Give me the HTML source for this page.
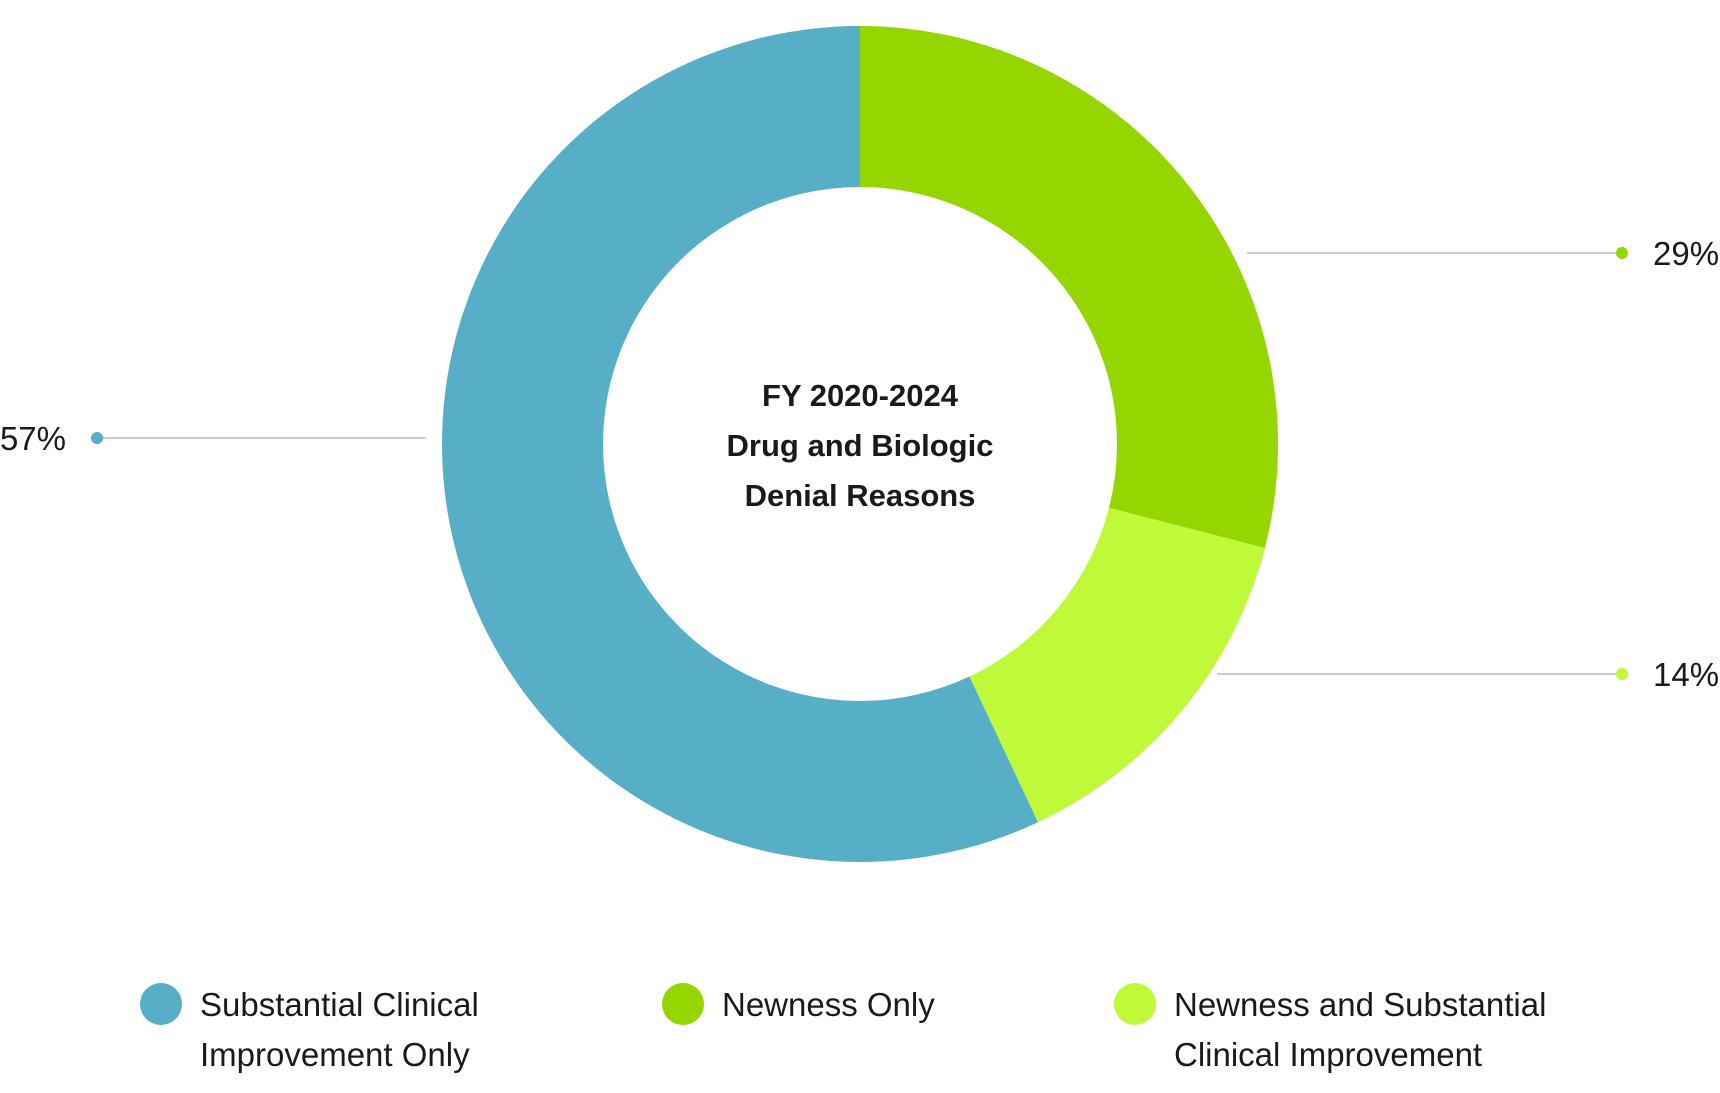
<!DOCTYPE html>
<html><head><meta charset="utf-8"><style>
html,body{margin:0;padding:0;background:#fff;width:1720px;height:1093px;overflow:hidden;font-family:"Liberation Sans",sans-serif}
</style></head><body>
<svg id="chart" width="1720" height="1093" viewBox="0 0 1720 1093" xmlns="http://www.w3.org/2000/svg">
<g id="slices"></g>
<g id="labels"></g>
<g font-weight="bold" font-size="31" fill="#1a1a1a" text-anchor="middle">
<text x="860" y="406">FY 2020-2024</text>
<text x="860" y="456">Drug and Biologic</text>
<text x="860" y="506">Denial Reasons</text>
</g>
<g id="legend"></g>
</svg>
<script>
const categories = ["Newness Only", "Newness and Substantial Clinical Improvement", "Substantial Clinical Improvement Only"];
const values = [29, 14, 57];
const valueLabels = ["29%", "14%", "57%"];
const colors = ["#95d600", "#c0f93a", "#56afc6"];
const cx = 860, cy = 444, R = 418, r = 257;
const NS = "http://www.w3.org/2000/svg";
const total = values.reduce((a,b)=>a+b,0);
function pt(rad, ang){return [cx + rad*Math.sin(ang), cy - rad*Math.cos(ang)];}
const sl = document.getElementById('slices');
const lb = document.getElementById('labels');
let acc = 0;
const labelLayout = [
  {side:1, y:253, x1:1247, dot:1622, tx:1653},
  {side:1, y:674, x1:1217, dot:1622, tx:1653},
  {side:-1, y:438, x1:426, dot:97, tx:66}
];
values.forEach((v,i)=>{
  const a0 = acc/total*2*Math.PI; acc += v; const a1 = acc/total*2*Math.PI;
  const large = (a1-a0) > Math.PI ? 1 : 0;
  const [x0,y0]=pt(R,a0),[x1,y1]=pt(R,a1),[x2,y2]=pt(r,a1),[x3,y3]=pt(r,a0);
  const p = document.createElementNS(NS,'path');
  p.setAttribute('d',`M${x0},${y0} A${R},${R} 0 ${large} 1 ${x1},${y1} L${x2},${y2} A${r},${r} 0 ${large} 0 ${x3},${y3} Z`);
  p.setAttribute('fill',colors[i]);
  
  
  sl.appendChild(p);
  const L = labelLayout[i];
  const ln = document.createElementNS(NS,'line');
  ln.setAttribute('x1',L.x1); ln.setAttribute('x2',L.dot); ln.setAttribute('y1',L.y); ln.setAttribute('y2',L.y);
  ln.setAttribute('stroke','#cccccc'); ln.setAttribute('stroke-width','2');
  
  
  lb.appendChild(ln);
  const c = document.createElementNS(NS,'circle');
  c.setAttribute('cx',L.dot); c.setAttribute('cy',L.y); c.setAttribute('r','6'); c.setAttribute('fill',colors[i]);
  
  
  lb.appendChild(c);
  const t = document.createElementNS(NS,'text');
  t.setAttribute('x',L.tx); t.setAttribute('y',L.y+12); t.setAttribute('font-size','33'); t.setAttribute('fill','#1a1a1a');
  t.setAttribute('text-anchor', L.side>0?'start':'end');
  t.textContent = valueLabels[i];
  
  
  lb.appendChild(t);
});
const legendOrder = [2,0,1];
const legendLines = [["Substantial Clinical","Improvement Only"],["Newness Only"],["Newness and Substantial","Clinical Improvement"]];
const legendX = [161, 683, 1135];
const lg = document.getElementById('legend');
legendOrder.forEach((ci,k)=>{
  const g = document.createElementNS(NS,'g');
  
  
  const c = document.createElementNS(NS,'circle');
  c.setAttribute('cx',legendX[k]); c.setAttribute('cy',1004); c.setAttribute('r','21'); c.setAttribute('fill',colors[ci]);
  
  
  g.appendChild(c);
  legendLines[k].forEach((s,j)=>{
    const t = document.createElementNS(NS,'text');
    t.setAttribute('x',legendX[k]+39); t.setAttribute('y',1016+j*50); t.setAttribute('font-size','33'); t.setAttribute('fill','#1a1a1a');
    t.textContent = s;
    
    
    g.appendChild(t);
  });
  lg.appendChild(g);
});
</script>
</body></html>
